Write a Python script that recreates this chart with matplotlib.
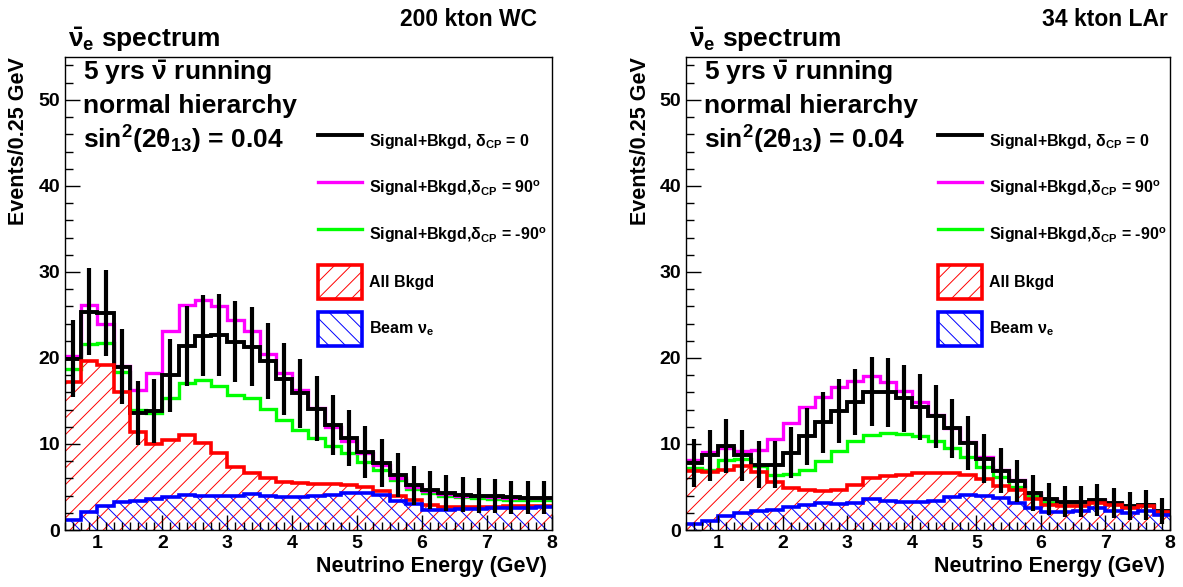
# nu-bar_e appearance spectra for the two far detector options

import numpy as np
import matplotlib.pyplot as plt
from matplotlib.lines import Line2D
from matplotlib.patches import Patch
from matplotlib.ticker import MultipleLocator

plt.rcParams['font.family'] = ['Liberation Sans', 'DejaVu Sans']
plt.rcParams['font.weight'] = 'bold'
plt.rcParams['mathtext.fontset'] = 'custom'
plt.rcParams['mathtext.rm'] = 'Liberation Sans:bold'
plt.rcParams['mathtext.it'] = 'Liberation Sans:bold'
plt.rcParams['mathtext.bf'] = 'Liberation Sans:bold'
plt.rcParams['mathtext.default'] = 'rm'
plt.rcParams['hatch.linewidth'] = 0.7

# binning: 0.25 GeV bins from 0.5 to 8 GeV
E_MIN, E_MAX, BIN_WIDTH = 0.5, 8.0, 0.25

# 200 kton water Cherenkov
wc_cp0 = [19.9, 25.4, 25.2, 19.0, 13.6, 13.8, 18.0, 21.4, 22.6, 22.7,
          21.9, 21.3, 19.6, 17.6, 15.9, 14.1, 12.2, 10.7, 9.1, 7.75,
          6.4, 5.2, 4.65, 4.3, 4.1, 4.0, 3.9, 3.8, 3.75, 3.75]
wc_cp90 = [20.2, 26.1, 24.0, 19.1, 16.3, 18.2, 23.1, 26.2, 26.7, 26.0,
           24.4, 23.1, 20.5, 18.2, 16.3, 14.2, 12.0, 10.3, 9.0, 7.6,
           6.1, 5.0, 4.5, 4.2, 4.0, 3.9, 3.8, 3.7, 3.7, 3.7]
wc_cpm90 = [18.7, 21.6, 21.7, 18.4, 13.95, 13.6, 15.4, 17.1, 17.4, 16.7,
            15.7, 15.4, 14.1, 12.8, 11.6, 10.7, 9.8, 8.9, 7.9, 7.0,
            5.8, 4.8, 4.3, 3.95, 3.8, 3.7, 3.6, 3.5, 3.5, 3.5]
wc_all_bkgd = [17.2, 19.6, 19.2, 16.0, 11.4, 10.0, 10.5, 11.0, 10.1, 8.9,
               7.3, 6.6, 6.0, 5.6, 5.5, 5.4, 5.3, 5.2, 5.0, 4.5,
               3.95, 3.5, 2.9, 2.7, 2.7, 2.7, 2.7, 2.75, 2.75, 2.8]
wc_beam_nue = [1.16, 2.1, 2.8, 3.2, 3.4, 3.6, 3.8, 4.07, 3.95, 3.9,
               3.95, 4.2, 3.9, 3.8, 3.8, 3.9, 4.1, 4.3, 4.3, 4.05,
               3.4, 3.0, 2.3, 2.3, 2.4, 2.45, 2.5, 2.55, 2.6, 2.65]

# 34 kton liquid argon
lar_cp0 = [7.8, 8.7, 9.8, 8.7, 7.6, 7.6, 9.0, 10.9, 12.5, 13.8,
           14.9, 16.1, 16.0, 15.3, 14.3, 13.2, 11.8, 10.1, 8.3, 6.9,
           5.7, 4.3, 3.6, 3.3, 3.3, 3.5, 3.1, 2.8, 2.9, 2.25]
lar_cp90 = [8.1, 9.1, 9.5, 9.2, 9.35, 10.6, 12.4, 14.3, 15.5, 16.6,
            17.3, 17.9, 17.2, 16.2, 14.9, 13.4, 11.9, 10.2, 8.5, 7.0,
            5.8, 4.3, 3.6, 3.3, 3.3, 3.5, 3.1, 2.8, 2.9, 2.25]
lar_cpm90 = [7.2, 7.0, 8.1, 8.3, 7.4, 6.4, 6.5, 7.0, 8.0, 9.2,
             10.3, 11.0, 11.3, 11.2, 10.9, 10.3, 9.5, 8.5, 7.3, 6.2,
             5.0, 3.95, 3.2, 3.05, 2.95, 3.25, 3.0, 2.7, 2.85, 2.15]
lar_all_bkgd = [6.9, 6.7, 7.0, 7.4, 6.8, 5.6, 4.85, 4.6, 4.5, 4.6,
                5.2, 6.1, 6.3, 6.4, 6.6, 6.6, 6.65, 6.4, 5.9, 5.1,
                4.6, 3.6, 2.9, 2.8, 2.75, 3.1, 2.9, 2.55, 2.75, 2.05]
lar_beam_nue = [0.65, 1.05, 1.6, 2.0, 2.2, 2.35, 2.7, 2.95, 3.15, 3.05,
                3.1, 3.55, 3.4, 3.3, 3.3, 3.4, 3.8, 4.1, 3.9, 3.7,
                3.1, 2.5, 2.1, 2.1, 2.25, 2.6, 2.25, 2.0, 2.2, 1.7]

LEGEND_LABELS = [r'Signal+Bkgd, δ$_{CP}$ = 0',
                 r'Signal+Bkgd,δ$_{CP}$ = 90$^{o}$',
                 r'Signal+Bkgd,δ$_{CP}$ = -90$^{o}$',
                 'All Bkgd',
                 r'Beam ν$_{e}$']

RED, BLUE, GREEN, MAGENTA = '#FF0000', '#0000FF', '#00FF00', '#FF00FF'


def draw_panel(ax, cp0, cp90, cpm90, bkgd, nue, detector, title_x):
    edges = np.linspace(E_MIN, E_MAX, int(round((E_MAX - E_MIN) / BIN_WIDTH)) + 1)
    centers = 0.5 * (edges[:-1] + edges[1:])
    cp0 = np.array(cp0)

    # hatched background histograms
    ax.stairs(bkgd, edges, fill=True, facecolor='none', edgecolor=RED, hatch='//', linewidth=0)
    ax.stairs(nue, edges, fill=True, facecolor='none', edgecolor=BLUE, hatch='\\\\', linewidth=0)

    ax.stairs(cpm90, edges, baseline=None, color=GREEN, linewidth=2.4)
    ax.stairs(cp90, edges, baseline=None, color=MAGENTA, linewidth=2.4)
    ax.stairs(cp0, edges, baseline=None, color='black', linewidth=2.8)
    ax.stairs(bkgd, edges, baseline=None, color=RED, linewidth=2.6)
    ax.stairs(nue, edges, baseline=None, color=BLUE, linewidth=2.6)
    ax.errorbar(centers, cp0, yerr=np.sqrt(cp0), fmt='none', ecolor='black', elinewidth=3)

    ax.set_xlim(E_MIN, E_MAX)
    ax.set_ylim(0, 55)
    ax.xaxis.set_major_locator(MultipleLocator(1))
    ax.xaxis.set_minor_locator(MultipleLocator(0.125))
    ax.yaxis.set_major_locator(MultipleLocator(10))
    ax.yaxis.set_minor_locator(MultipleLocator(2))
    ax.tick_params(which='both', direction='in', top=False, right=False, labelsize=14)
    ax.tick_params(which='major', length=11, width=1)
    ax.tick_params(which='minor', length=6, width=1)
    for lbl in ax.get_xticklabels() + ax.get_yticklabels():
        lbl.set_fontweight('bold')

    ax.set_xlabel('Neutrino Energy (GeV)', fontsize=15.5, fontweight='bold', loc='right')
    ax.xaxis.set_label_coords(0.99, -0.055)
    ax.set_ylabel('Events/0.25 GeV', fontsize=15.5, fontweight='bold', loc='top')
    ax.yaxis.set_label_coords(-0.073, 1.0)

    ax.text(0.006, 1.036, r'$\bar{\nu}_{e}$ spectrum', transform=ax.transAxes,
            fontsize=19, fontweight='bold', ha='left', va='center')
    ax.text(title_x, 1.08, detector, transform=ax.transAxes,
            fontsize=16.5, fontweight='bold', ha='right', va='center')

    ax.text(0.037, 0.966, r'5 yrs $\bar{\nu}$ running', transform=ax.transAxes,
            fontsize=19, fontweight='bold', va='center')
    ax.text(0.037, 0.896, 'normal hierarchy', transform=ax.transAxes,
            fontsize=19, fontweight='bold', va='center')
    ax.text(0.037, 0.825, r'sin$^{2}$(2θ$_{13}$) = 0.04', transform=ax.transAxes,
            fontsize=19, fontweight='bold', va='center')

    handles = [Line2D([], [], color='black', linewidth=2.8),
               Line2D([], [], color=MAGENTA, linewidth=2.4),
               Line2D([], [], color=GREEN, linewidth=2.4),
               Patch(facecolor='none', edgecolor=RED, hatch='//', linewidth=2.6),
               Patch(facecolor='none', edgecolor=BLUE, hatch='\\\\', linewidth=2.6)]
    leg = ax.legend(handles, LEGEND_LABELS, loc='upper left', bbox_to_anchor=(0.52, 0.857),
                    frameon=False, fontsize=11.5, borderpad=0, borderaxespad=0,
                    handlelength=2.75, handleheight=2.9, labelspacing=0.8, handletextpad=0.45)
    for t in leg.get_texts():
        t.set_fontweight('bold')

    for sp in ax.spines.values():
        sp.set_linewidth(1)


fig = plt.figure(figsize=(11.83, 5.87), dpi=100)
ax_wc = fig.add_axes([0.0549, 0.0971, 0.4117, 0.806])
ax_lar = fig.add_axes([0.5799, 0.0971, 0.4091, 0.806])

draw_panel(ax_wc, wc_cp0, wc_cp90, wc_cpm90, wc_all_bkgd, wc_beam_nue, '200 kton WC', 0.969)
draw_panel(ax_lar, lar_cp0, lar_cp90, lar_cpm90, lar_all_bkgd, lar_beam_nue, '34 kton LAr', 0.996)

fig.savefig('out.png', dpi=100)
